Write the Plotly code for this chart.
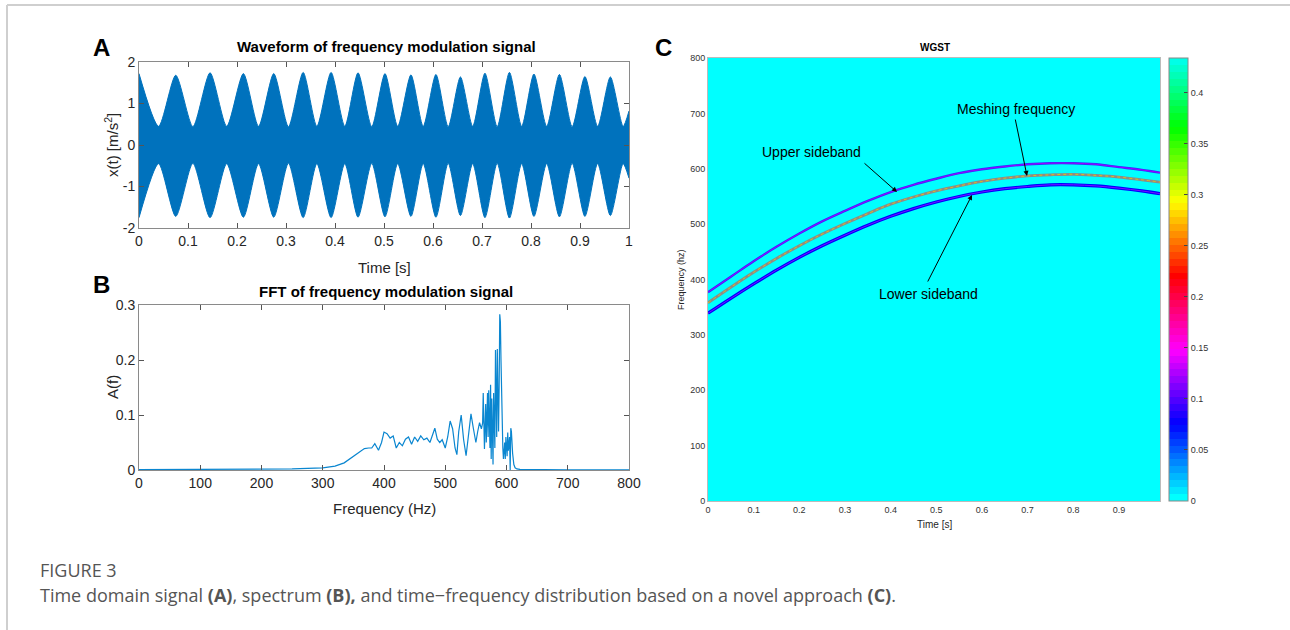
import colorsys
import plotly.graph_objects as go

W, H = 1290, 630
FONT = "Liberation Sans, Arial, sans-serif"

# ---------------- (A) waveform envelope ----------------
env_t = [0.0, 0.04, 0.075, 0.11, 0.145, 0.179, 0.213, 0.244, 0.275, 0.305,
         0.335, 0.363, 0.392, 0.42, 0.447, 0.475, 0.502, 0.528, 0.555, 0.58,
         0.606, 0.631, 0.656, 0.681, 0.706, 0.731, 0.756, 0.781, 0.806, 0.832,
         0.858, 0.884, 0.91, 0.936, 0.962, 0.988, 1.0]
env_upper = [1.72, 0.45, 1.68, 0.44, 1.74, 0.45, 1.72, 0.45, 1.72, 0.44,
             1.75, 0.45, 1.75, 0.45, 1.74, 0.44, 1.72, 0.45, 1.69, 0.45,
             1.70, 0.44, 1.64, 0.45, 1.73, 0.44, 1.75, 0.45, 1.71, 0.45,
             1.70, 0.44, 1.65, 0.45, 1.64, 0.45, 0.82]
env_lower = [-1.75, -0.45, -1.72, -0.44, -1.75, -0.45, -1.74, -0.45, -1.74, -0.44,
             -1.75, -0.45, -1.75, -0.45, -1.74, -0.44, -1.73, -0.45, -1.72, -0.45,
             -1.74, -0.44, -1.70, -0.45, -1.75, -0.44, -1.76, -0.45, -1.72, -0.45,
             -1.73, -0.44, -1.72, -0.45, -1.70, -0.45, -0.80]

# ---------------- (B) spectrum ----------------
freq_hz = [0, 50, 100, 150, 200, 250, 300, 320, 335, 350, 360, 368, 375, 380,
           385, 391, 396, 400, 405, 410, 415, 420, 425, 430, 435, 440, 445, 450,
           455, 460, 465, 470, 475, 479, 483, 487, 491, 495, 500, 504, 508, 512,
           516, 519, 522, 526, 530, 534, 538, 542, 546, 550, 553, 556, 559, 561,
           562, 563, 564, 566, 567, 569, 570, 571, 573, 574, 575, 576, 578, 579,
           581, 582, 584, 585, 586, 587, 588, 589, 590, 591, 592, 594, 595, 597,
           598, 599, 601, 602, 603, 605, 606, 607, 608, 610, 612, 614, 617, 622,
           640, 700, 750, 800]
amp = [0.0005, 0.0006, 0.0008, 0.001, 0.0013, 0.002, 0.004, 0.007, 0.013, 0.025,
       0.033, 0.039, 0.04, 0.04, 0.048, 0.036, 0.05, 0.069, 0.066, 0.058,
       0.062, 0.04, 0.05, 0.044, 0.056, 0.06, 0.047, 0.06, 0.052, 0.062,
       0.055, 0.058, 0.05, 0.062, 0.076, 0.056, 0.05, 0.055, 0.04, 0.06,
       0.089, 0.075, 0.04, 0.028, 0.07, 0.1, 0.055, 0.026, 0.07, 0.102,
       0.075, 0.05, 0.07, 0.086, 0.075, 0.085, 0.14, 0.06, 0.038, 0.12,
       0.05, 0.14, 0.06, 0.145, 0.04, 0.155, 0.02, 0.13, 0.01, 0.14,
       0.04, 0.218, 0.06, 0.22, 0.12, 0.07, 0.15, 0.283, 0.27, 0.2,
       0.12, 0.04, 0.02, 0.05, 0.02, 0.06, 0.025, 0.068, 0.035, 0.06,
       0.0, 0.076, 0.07, 0.03, 0.01, 0.004, 0.002, 0.001, 0.0006, 0.0004,
       0.0003, 0.0003]

# ---------------- (C) WGST ridges ----------------
ridge_t = [0.0, 0.05, 0.1, 0.15, 0.2, 0.25, 0.3, 0.35, 0.4, 0.45, 0.5, 0.55,
           0.6, 0.65, 0.7, 0.75, 0.8, 0.85, 0.9, 0.95, 0.99]
upper_hz = [377, 405, 433, 459, 483, 505, 524, 542, 558, 571, 582, 592,
            599, 604, 608, 610, 610, 608, 603, 598, 593]
mesh_hz = [358, 386, 413, 438, 461, 482, 501, 519, 536, 549, 560, 569,
           577, 583, 587, 589, 590, 588, 585, 580, 576]
lower_hz = [339, 366, 392, 417, 440, 461, 480, 498, 514, 528, 540, 550,
            558, 564, 568, 571, 571, 569, 565, 560, 555]
cbar_ticks = [0, 0.05, 0.1, 0.15, 0.2, 0.25, 0.3, 0.35, 0.4]
cbar_max = 0.434

# MATLAB-like 64 level hsv map starting from cyan
levels = 64
hsv_scale = []
for i in range(levels):
    r, g, b = colorsys.hsv_to_rgb((0.5 + i / levels) % 1.0, 1, 1)
    c = f"rgb({int(r*255)},{int(g*255)},{int(b*255)})"
    hsv_scale.append([i / levels, c])
    hsv_scale.append([(i + 1) / levels, c])
hsv_scale[-1][0] = 1.0


def px_x(x):
    """pixel column -> paper fraction"""
    return x / W


def px_y(y):
    """pixel row -> paper fraction"""
    return 1 - y / H


def labels(vals):
    return [f"{v:g}" for v in vals]


fig = go.Figure()

blue = "#0072BD"
# (A)
fig.add_trace(go.Scatter(x=env_t, y=env_lower, mode="lines", line=dict(color=blue, width=1, shape="spline", smoothing=0.7),
                         xaxis="x", yaxis="y", showlegend=False, hoverinfo="skip"))
fig.add_trace(go.Scatter(x=env_t, y=env_upper, mode="lines", line=dict(color=blue, width=1, shape="spline", smoothing=0.7),
                         fill="tonexty", fillcolor=blue, xaxis="x", yaxis="y", showlegend=False))
# (B)
fig.add_trace(go.Scatter(x=freq_hz, y=amp, mode="lines", line=dict(color="#0a86d0", width=1.2),
                         xaxis="x2", yaxis="y2", showlegend=False))
# (C)
fig.add_trace(go.Scatter(x=ridge_t, y=upper_hz, mode="lines", line=dict(color="#3030ff", width=2.4, shape="spline"),
                         xaxis="x3", yaxis="y3", showlegend=False))
fig.add_trace(go.Scatter(x=ridge_t, y=upper_hz, mode="lines", line=dict(color="#a000ff", width=1.0, shape="spline"),
                         xaxis="x3", yaxis="y3", showlegend=False))
fig.add_trace(go.Scatter(x=ridge_t, y=mesh_hz, mode="lines", line=dict(color="#8c8c88", width=2.8, shape="spline"),
                         xaxis="x3", yaxis="y3", showlegend=False))
fig.add_trace(go.Scatter(x=ridge_t, y=mesh_hz, mode="lines", line=dict(color="#d8c020", width=1.0, shape="spline", dash="dot"),
                         xaxis="x3", yaxis="y3", showlegend=False))
fig.add_trace(go.Scatter(x=ridge_t, y=lower_hz, mode="lines", line=dict(color="#0000ff", width=3.2, shape="spline"),
                         xaxis="x3", yaxis="y3", showlegend=False))
fig.add_trace(go.Scatter(x=ridge_t, y=lower_hz, mode="lines", line=dict(color="#7a10ff", width=1.0, shape="spline"),
                         xaxis="x3", yaxis="y3", showlegend=False))
# colour scale of the distribution
fig.add_trace(go.Scatter(x=[0.5, 0.5], y=[-50, -50], mode="markers", xaxis="x3", yaxis="y3",
                         marker=dict(color=[0, cbar_max], cmin=0, cmax=cbar_max, colorscale=hsv_scale, size=1, opacity=0,
                                     showscale=True,
                                     colorbar=dict(x=px_x(1169), xanchor="left", y=px_y(501), yanchor="bottom",
                                                   len=(501 - 58) / H, lenmode="fraction", thickness=19,
                                                   thicknessmode="pixels", outlinecolor="#888", outlinewidth=1,
                                                   tickvals=cbar_ticks, ticktext=labels(cbar_ticks),
                                                   ticks="inside", ticklen=4, tickcolor="#444",
                                                   tickfont=dict(family=FONT, size=9, color="#333"), xpad=0, ypad=0)),
                         showlegend=False, hoverinfo="skip"))

ax_common = dict(showgrid=False, zeroline=False, mirror="ticks", showline=True, linecolor="#8a8a8a", linewidth=1,
                 ticks="inside", ticklen=5, tickcolor="#555", tickfont=dict(family=FONT, size=14, color="#262626"))
c_common = dict(showgrid=False, zeroline=False, showline=True, mirror=True, linecolor="#bbbbbb", ticks="",
                tickfont=dict(family=FONT, size=9, color="#333"))

a_xt = [i / 10 for i in range(11)]
a_yt = [-2, -1, 0, 1, 2]
b_xt = list(range(0, 801, 100))
b_yt = [0, 0.1, 0.2, 0.3]
c_xt = [i / 10 for i in range(10)]
c_yt = list(range(0, 801, 100))

fig.update_layout(
    width=W, height=H, margin=dict(l=0, r=0, t=0, b=0, pad=0, autoexpand=False),
    paper_bgcolor="white", plot_bgcolor="white",
    xaxis=dict(domain=[px_x(139), px_x(629)], range=[0, 1], tickvals=a_xt, ticktext=labels(a_xt), anchor="y", **ax_common),
    yaxis=dict(domain=[px_y(228), px_y(62)], range=[-2, 2], tickvals=a_yt, ticktext=labels(a_yt), anchor="x", **ax_common),
    xaxis2=dict(domain=[px_x(139), px_x(629)], range=[0, 800], tickvals=b_xt, ticktext=labels(b_xt), anchor="y2", **ax_common),
    yaxis2=dict(domain=[px_y(470), px_y(305)], range=[0, 0.3], tickvals=b_yt, ticktext=labels(b_yt), anchor="x2", **ax_common),
    xaxis3=dict(domain=[px_x(708), px_x(1160)], range=[0, 0.99], tickvals=c_xt, ticktext=labels(c_xt), anchor="y3", **c_common),
    yaxis3=dict(domain=[px_y(501), px_y(58)], range=[0, 800], tickvals=c_yt, ticktext=labels(c_yt), anchor="x3", **c_common),
)

# cyan background of the time-frequency plane
fig.add_shape(type="rect", xref="x3 domain", yref="y3 domain", x0=0, x1=1, y0=0, y1=1,
              fillcolor="#00ffff", line=dict(width=0), layer="below")

# page frame
fig.add_shape(type="line", xref="paper", yref="paper", x0=px_x(7), x1=1, y0=px_y(5), y1=px_y(5),
              line=dict(color="#cfcfcf", width=2))
fig.add_shape(type="line", xref="paper", yref="paper", x0=px_x(7), x1=px_x(7), y0=px_y(5), y1=0,
              line=dict(color="#cfcfcf", width=2))


def text(x, y, s, size, bold=False, color="#000", angle=0, xanchor="center", family=FONT):
    fig.add_annotation(x=px_x(x), y=px_y(y), xref="paper", yref="paper", text=f"<b>{s}</b>" if bold else s,
                       showarrow=False, textangle=angle, xanchor=xanchor, yanchor="middle",
                       font=dict(family=family, size=size, color=color))


# panel letters and titles
text(101, 48, "A", 24, bold=True)
text(101, 285, "B", 24, bold=True)
text(663, 48, "C", 24, bold=True)
text(386, 47, "Waveform of frequency modulation signal", 15, bold=True)
text(386, 291, "FFT of frequency modulation signal", 15, bold=True)
text(935, 48, "WGST", 10, bold=True)
# axis labels
text(384, 267, "Time [s]", 15, color="#262626")
text(112, 145, "x(t) [m/s<sup>2</sup>]", 15, color="#262626", angle=-90)
text(384, 508, "Frequency (Hz)", 15, color="#262626")
text(112, 387, "A(f)", 15, color="#262626", angle=-90)
text(935, 524, "Time [s]", 10, color="#262626")
text(681, 280, "Frequency (hz)", 9, color="#262626", angle=-90)

# ridge labels with arrows
text(1016, 109, "Meshing frequency", 14)
text(811, 152, "Upper sideband", 14)
text(928, 294, "Lower sideband", 14)
for (x0, y0, x1, y1) in [(1015, 118, 1027, 176), (863, 162, 897, 192), (927, 283, 972, 195)]:
    fig.add_annotation(x=px_x(x1), y=px_y(y1), ax=x0 - x1, ay=y0 - y1, xref="paper", yref="paper",
                       axref="pixel", ayref="pixel", text="", showarrow=True, arrowhead=2, arrowsize=1,
                       arrowwidth=1, arrowcolor="#000")

# caption
CAP = "Open Sans, sans-serif"
text(38, 570, "FIGURE 3", 18, color="#555", xanchor="left", family=CAP)
text(38, 595, "Time domain signal <b>(A)</b>, spectrum <b>(B),</b> and time\u2212frequency distribution based on a novel approach <b>(C)</b>.",
     18, color="#555", xanchor="left", family=CAP)

fig.write_html("out.html")
